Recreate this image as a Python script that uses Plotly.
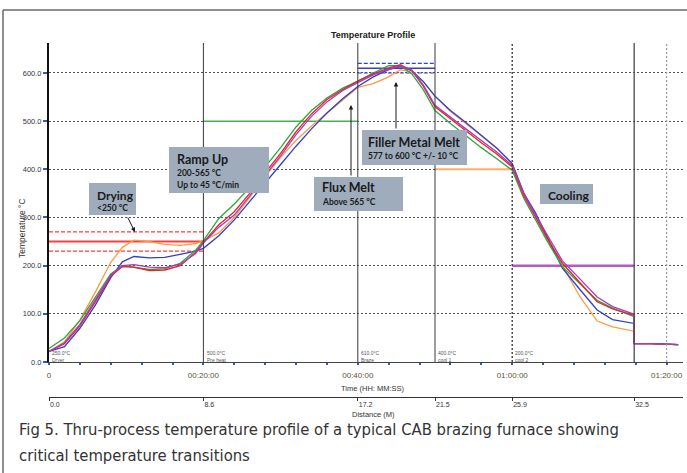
import plotly.graph_objects as go

# ---------------- data ----------------
time_min = [0, 2, 4, 6, 8, 9.5, 11, 13, 15, 17, 19, 20, 22, 24, 26, 28, 30, 32, 34, 36, 38, 40,
            42, 44, 45.5, 47, 48.5, 50, 52, 54, 56, 58, 60, 61.5, 63, 64.5, 66.5, 68.8, 71, 73,
            75.8, 75.8, 78, 81.5]

orange_c = [22, 42, 87, 145, 207, 238, 253, 250, 244, 242, 246, 252, 268, 300, 342, 385, 425, 460,
            490, 517, 544, 570, 578, 592, 607, 602, 582, 552, 520, 495, 470, 445, 412, 352, 305,
            255, 200, 135, 85, 73, 64, 38, 38, 36]
blue_c = [22, 32, 70, 118, 175, 208, 219, 216, 217, 223, 230, 236, 262, 295, 334, 373, 410, 448,
          484, 517, 546, 572, 592, 607, 613, 605, 582, 552, 522, 497, 470, 444, 412, 350, 310,
          262, 195, 150, 108, 88, 80, 38, 38, 36]
green_c = [28, 50, 86, 135, 183, 200, 196, 192, 194, 205, 232, 252, 298, 328, 362, 405, 445, 488,
           522, 548, 568, 583, 600, 615, 615, 598, 565, 522, 495, 470, 445, 422, 398, 340, 296,
           252, 198, 162, 128, 112, 94, 38, 38, 36]
red_c = [22, 38, 75, 125, 178, 198, 197, 190, 191, 200, 228, 248, 285, 312, 350, 393, 433, 478,
         515, 545, 565, 583, 598, 610, 617, 605, 572, 530, 505, 480, 455, 432, 405, 345, 300,
         258, 205, 165, 125, 110, 97, 38, 38, 36]
purple_c = [22, 40, 78, 128, 180, 200, 202, 197, 196, 203, 225, 247, 280, 305, 345, 388, 428, 472,
            510, 540, 563, 580, 596, 608, 614, 606, 575, 533, 508, 484, 460, 436, 408, 350, 306,
            264, 210, 172, 135, 115, 99, 38, 38, 36]

zone_start = [0, 20, 40, 50, 60]
zone_end = [20, 40, 50, 60, 75.8]
zone_setpoint = [250, 500, 610, 400, 200]
zone_tol = [20, 0, 10, 0, 0]
zone_names = ["Dryer", "Pre heat", "Braze", "cool 1", "cool 2"]

time_ticks = [0, 20, 40, 60, 80]
time_labels = ["0", "00:20:00", "00:40:00", "01:00:00", "01:20:00"]
temp_ticks = [0, 100, 200, 300, 400, 500, 600]
dist_pos = [0, 20, 40, 50, 60, 75.8]
dist_labels = ["0.0", "8.6", "17.2", "21.5", "25.9", "32.5"]
end_line = 75.8
grid_v = [60, 80]

# ---------------- geometry helpers ----------------
W, H = 687, 473
L, R, T, B = 49, 4, 43, 76
PW = W - L - R
PH = H - T - B
AX_Y = 362  # pixel row of the temperature zero line


def px(p):
    return (p - L) / PW


def py(p):
    return (H - B - p) / PH


y_dom0 = py(AX_Y)

fig = go.Figure()

zone_cols = ["#ff3b3b", "#3fb54a", "#3344cc", "#ffae66", "#b05cc0"]
zone_w = [2, 1.5, 1.5, 2, 2.5]
for s, e, v, tol, c, w in zip(zone_start, zone_end, zone_setpoint, zone_tol, zone_cols, zone_w):
    fig.add_trace(go.Scatter(x=[s, e], y=[v, v], mode="lines", line=dict(color=c, width=w),
                             showlegend=False, hoverinfo="skip"))
    if tol:
        for vv in (v + tol, v - tol):
            fig.add_trace(go.Scatter(x=[s, e], y=[vv, vv], mode="lines",
                                     line=dict(color=c, width=1.2, dash="4px,2px"),
                                     showlegend=False, hoverinfo="skip"))

series = [("orange", orange_c, "#ff9a3c"), ("blue", blue_c, "#2c3fd0"),
          ("green", green_c, "#2aa83a"), ("red", red_c, "#e8202a"),
          ("purple", purple_c, "#a83cb8")]
for name, vals, col in series:
    fig.add_trace(go.Scatter(x=time_min, y=vals, mode="lines", name=name,
                             line=dict(color=col, width=1.3), showlegend=False))

# invisible trace to carry the distance axis
fig.add_trace(go.Scatter(x=dist_pos, y=[None] * len(dist_pos), xaxis="x2", yaxis="y",
                         mode="lines", showlegend=False, hoverinfo="skip"))

shapes = []
# zone boundaries
for s in zone_start[1:]:
    if s in grid_v:
        continue
    shapes.append(dict(type="line", xref="x", yref="y domain", x0=s, x1=s, y0=0, y1=1,
                       line=dict(color="#3a3a3a", width=1)))
shapes.append(dict(type="line", xref="x", yref="y domain", x0=end_line, x1=end_line, y0=0, y1=1,
                   line=dict(color="#4a4a4a", width=1.3)))
shapes.append(dict(type="line", xref="x", yref="y domain", x0=grid_v[0], x1=grid_v[0], y0=0, y1=1,
                   line=dict(color="#333333", width=1.3, dash="2px,2px")))
shapes.append(dict(type="line", xref="x", yref="y domain", x0=grid_v[1], x1=grid_v[1], y0=0, y1=1,
                   line=dict(color="#a0a0a0", width=1.3, dash="2px,2px")))

# outer frame
shapes.append(dict(type="line", xref="paper", yref="paper", x0=px(3), x1=px(690), y0=py(10), y1=py(10),
                   line=dict(color="#6a6a6a", width=1.5)))
shapes.append(dict(type="line", xref="paper", yref="paper", x0=px(3), x1=px(3), y0=py(10), y1=py(476),
                   line=dict(color="#6a6a6a", width=1.5)))

# callout boxes
BOX = "#9eacbc"
boxes = [(89, 136, 183, 215), (169, 269, 147, 193), (314, 403, 177, 211),
         (362, 467, 130, 165), (540, 593, 184, 204)]
for x0, x1, y0, y1 in boxes:
    shapes.append(dict(type="rect", xref="paper", yref="paper", x0=px(x0), x1=px(x1),
                       y0=py(y1), y1=py(y0), fillcolor=BOX, line=dict(width=0), layer="above"))

ann = []
BF = "Lato, Open Sans, sans-serif"


def txt(x, y, s, size, bold=True, color="#1a1a1a", family=BF, anchor="left"):
    ann.append(dict(xref="paper", yref="paper", x=px(x), y=py(y), text=("<b>%s</b>" % s) if bold else s,
                    showarrow=False, xanchor=anchor, yanchor="middle",
                    font=dict(size=size, color=color, family=family)))


txt(95, 195, "Drying", 12)
txt(95, 208, "&lt;250 °C", 8.5)
txt(175, 159, "Ramp Up", 12.5)
txt(175, 173, "200-565 °C", 8.5)
txt(175, 185, "Up to 45 °C/min", 8.5)
txt(320, 188, "Flux Melt", 12.5)
txt(320, 202, "Above 565 °C", 8.5)
txt(366, 142, "Filler Metal Melt", 12.5)
txt(366, 156, "577 to 600 °C +/- 10 °C", 8.5)
txt(546, 195, "Cooling", 12)

# arrows (tail -> head, pixel offsets)
for (tx, ty, hx, hy) in [(127, 216, 135, 232), (351, 177, 351, 105), (396, 130, 396, 82)]:
    ann.append(dict(xref="paper", yref="paper", x=px(hx), y=py(hy), ax=tx - hx, ay=ty - hy,
                    axref="pixel", ayref="pixel", text="", showarrow=True, arrowhead=2,
                    arrowsize=0.9, arrowwidth=1, arrowcolor="#1a1a1a"))

# titles
AF = "Liberation Sans, Arial, sans-serif"
txt(373, 35, "Temperature Profile", 9, bold=True, color="#222222", family=AF, anchor="center")
txt(373, 388, "Time (HH: MM:SS)", 7.5, bold=False, color="#333333", family=AF, anchor="center")
txt(373, 414, "Distance (M)", 7.5, bold=False, color="#333333", family=AF, anchor="center")
ann.append(dict(xref="paper", yref="paper", x=px(15), y=py(228), text="Temperature °C", textangle=-90,
                showarrow=False, font=dict(size=8.5, color="#333333", family=AF)))

# zone set-point labels
for s, v, n in zip(zone_start, zone_setpoint, zone_names):
    ann.append(dict(xref="x", yref="paper", x=s + 0.15, y=py(356), xanchor="left", yanchor="middle",
                    text="%.1f°C<br>%s" % (v, n), showarrow=False, align="left",
                    font=dict(size=5, color="#555555", family=AF)))

# caption
CF = "Liberation Sans Narrow, Arial Narrow, DejaVu Sans Condensed, sans-serif"
txt(17, 429, "Fig 5. Thru-process temperature profile of a typical CAB brazing furnace showing", 16.5,
    bold=False, color="#333333", family=CF)
txt(17, 455, "critical temperature transitions", 16.5, bold=False, color="#333333", family=CF)

fig.update_layout(
    width=W, height=H, margin=dict(l=L, r=R, t=T, b=B),
    paper_bgcolor="white", plot_bgcolor="white",
    shapes=shapes, annotations=ann, showlegend=False,
    xaxis=dict(range=[0, PW / 7.72], tickvals=time_ticks, ticktext=time_labels,
               showline=True, linecolor="#444444", linewidth=1, showgrid=False, zeroline=False,
               ticks="outside", ticklen=2, tickcolor="#3355cc", tickwidth=1.5,
               minor=dict(dtick=4, tick0=0, ticks="outside", ticklen=2, tickcolor="#3355cc",
                          tickwidth=1.5, showgrid=False),
               ticklabelstandoff=3,
               tickfont=dict(size=8, color="#5a5535", family=AF), anchor="y"),
    xaxis2=dict(range=[0, PW / 7.72], overlaying="x", anchor="free", position=0, side="bottom",
                tickvals=dist_pos, ticktext=dist_labels, showline=True, linecolor="#333333",
                linewidth=1, showgrid=False, zeroline=False, ticks="outside", ticklen=3,
                tickcolor="#333333", ticklabelposition="outside right", ticklabelstandoff=1,
                tickfont=dict(size=7, color="#333333", family=AF)),
    yaxis=dict(domain=[y_dom0, 1], range=[0, (AX_Y - T) / 0.4817], tickvals=temp_ticks,
               tickformat=".1f", showline=True, linecolor="#111111", linewidth=2,
               showgrid=True, gridcolor="#555555", gridwidth=1.3, griddash="2px,2px",
               zeroline=False, ticks="outside", ticklen=4, tickcolor="#3355cc", tickwidth=1.5,
               tickfont=dict(size=7.5, color="#333344", family=AF)),
)

fig.write_html("out.html", config={"displayModeBar": False},
               post_script="document.body.style.margin='0';document.body.style.overflow='hidden';")
